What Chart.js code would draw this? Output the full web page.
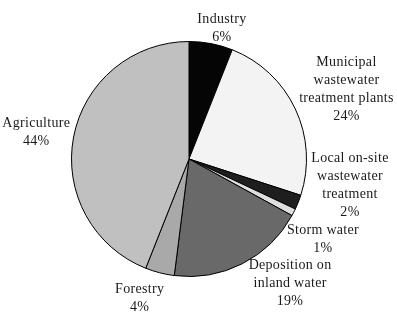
<!DOCTYPE html>
<html>
<head>
<meta charset="utf-8">
<script src="https://cdn.jsdelivr.net/npm/chart.js@4/dist/chart.umd.min.js"></script>
<style>
  html, body { margin: 0; padding: 0; background: #fff; }
  #wrap { width: 397px; height: 315px; }
</style>
</head>
<body>
<div id="wrap"><canvas id="pie"></canvas></div>
<script>
// --------------------- Data ---------------------
const sources = [
  ['Industry'],
  ['Municipal', 'wastewater', 'treatment plants'],
  ['Local on-site', 'wastewater', 'treatment'],
  ['Storm water'],
  ['Deposition on', 'inland water'],
  ['Forestry'],
  ['Agriculture']
];
const shares = [6, 24, 2, 1, 19, 4, 44];

// --------------------- Styles ---------------------
const fills = ['#050505', '#f3f3f3', '#1e1e1e', '#dedede', '#696969', '#a9a9a9', '#c0c0c0'];
// label centre relative to pie centre, in units of the radius
const labelOffsets = [
  [0.28, -1.11], [1.34, -0.59], [1.37, 0.22], [1.14, 0.68],
  [0.86, 1.06], [-0.42, 1.19], [-1.30, -0.23]
];

// --------------------- Label plugin ---------------------
const sliceLabels = {
  id: 'sliceLabels',
  afterDatasetsDraw(chart) {
    const ctx = chart.ctx;
    const arcs = chart.getDatasetMeta(0).data;
    const lineH = 18;
    ctx.save();
    ctx.font = '14px "Liberation Serif", "Times New Roman", serif';
    if ('letterSpacing' in ctx) ctx.letterSpacing = '0.3px';
    ctx.fillStyle = '#1a1a1a';
    ctx.textAlign = 'center';
    ctx.textBaseline = 'middle';
    arcs.forEach((arc, i) => {
      const r = arc.outerRadius;
      const lines = sources[i].concat([shares[i] + '%']);
      const cx = arc.x + labelOffsets[i][0] * r;
      const cy = arc.y + labelOffsets[i][1] * r;
      const top = cy - (lines.length - 1) * lineH / 2;
      lines.forEach((t, k) => ctx.fillText(t, cx, top + k * lineH));
    });
    ctx.restore();
  }
};

// --------------------- Chart ---------------------
new Chart(document.getElementById('pie').getContext('2d'), {
  type: 'pie',
  data: {
    labels: sources.map(s => s.join(' ')),
    datasets: [{
      data: shares,
      backgroundColor: fills,
      borderColor: '#000',
      borderWidth: 1
    }]
  },
  options: {
    responsive: true,
    maintainAspectRatio: false,
    animation: false,
    layout: { padding: { top: 41, bottom: 38, left: 71, right: 90 } },
    plugins: { legend: { display: false }, tooltip: { enabled: false } }
  },
  plugins: [sliceLabels]
});
</script>
</body>
</html>
